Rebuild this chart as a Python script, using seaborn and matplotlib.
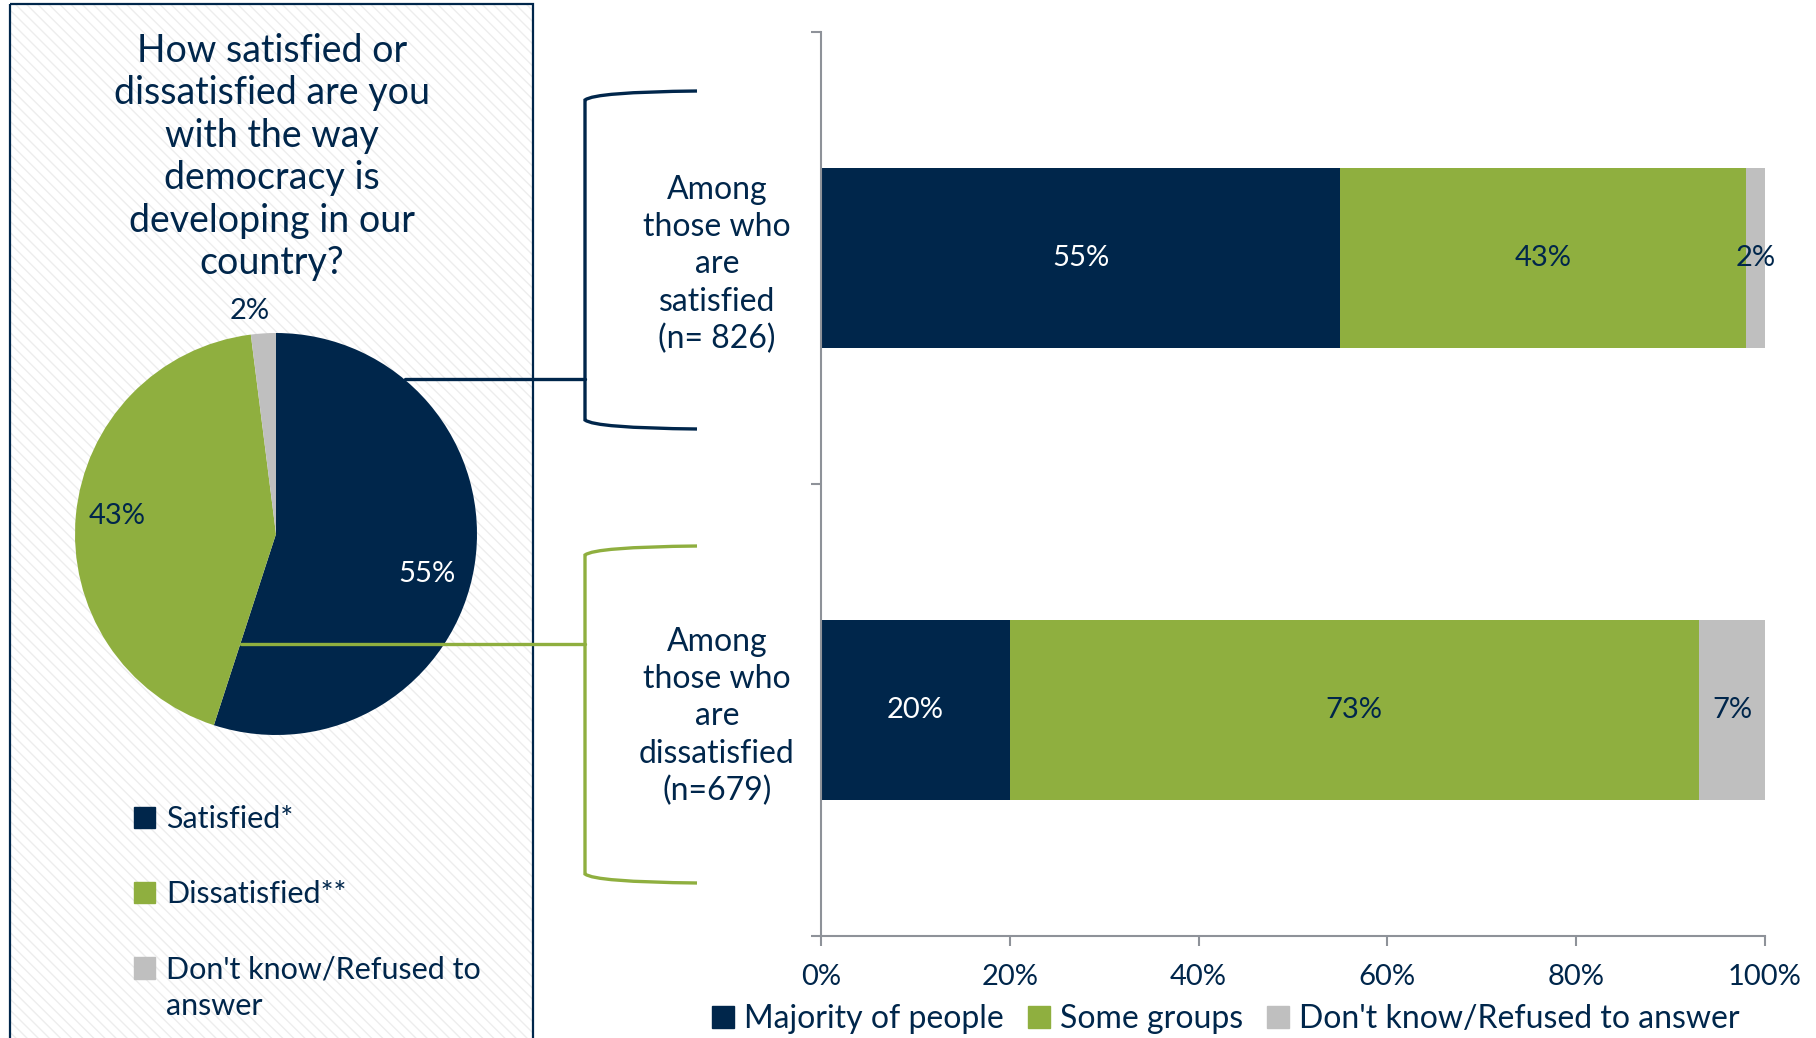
import numpy as np
import pandas as pd
import matplotlib
matplotlib.use("Agg")
import matplotlib.pyplot as plt
import seaborn as sns
from matplotlib.patches import Rectangle, PathPatch, Patch
from matplotlib.legend_handler import HandlerPatch
from matplotlib.path import Path

# ---- colours ----
NAVY = '#00264B'
GREEN = '#8FAF3F'
GREY = '#BFBFBF'
AXIS_GREY = '#8E9299'

# ---- data ----
question = ('How satisfied or\ndissatisfied are you\nwith the way\n'
            'democracy is\ndeveloping in our\ncountry?')
pie_labels = ['Satisfied*', 'Dissatisfied**', "Don't know/Refused to\nanswer"]
pie_values = [55, 43, 2]

groups = ['Among\nthose who\nare\nsatisfied\n(n= 826)',
          'Among\nthose who\nare\ndissatisfied\n(n=679)']
series = ['Majority of people', 'Some groups', "Don't know/Refused to answer"]
majority = [55, 20]
some_groups = [43, 73]
dont_know = [2, 7]

sns.set_theme(style='white')
plt.rcParams['font.family'] = ['Lato', 'DejaVu Sans']
plt.rcParams['hatch.linewidth'] = 1.0

W, H = 1816, 1038
fig = plt.figure(figsize=(W / 100, H / 100), dpi=100)


def px_axes(x0, y0, x1, y1, **kw):
    return fig.add_axes([x0 / W, 1 - y1 / H, (x1 - x0) / W, (y1 - y0) / H], **kw)


# ---- left panel background (hatched box) ----
bg = px_axes(0, 0, W, H)
bg.set_xlim(0, W)
bg.set_ylim(H, 0)
bg.axis('off')
bg.add_patch(Rectangle((10, 4), 523, 1060, facecolor='white', edgecolor='#EDEDED',
                       hatch='\\\\\\', linewidth=0))
bg.add_patch(Rectangle((10, 4), 523, 1060, fill=False, edgecolor=NAVY, linewidth=1.6))
bg.text(272, 157, question, ha='center', va='center', fontsize=27, color=NAVY,
        linespacing=1.22)

# ---- pie ----
pie_ax = px_axes(75, 333, 477, 735)
wedges, texts, autotexts = pie_ax.pie(
    pie_values, colors=[NAVY, GREEN, GREY], startangle=90, counterclock=False,
    labels=['', '', '2%'], labeldistance=1.1,
    autopct=lambda p: f'{p:.0f}%' if p > 5 else '', pctdistance=0.78,
    wedgeprops=dict(linewidth=0), textprops=dict(fontsize=21, color=NAVY))
autotexts[0].set_color('white')
autotexts[0].set_position((0.75, -0.2))
autotexts[1].set_position((-0.79, 0.09))
texts[2].set_ha('center')
texts[2].set_position((-0.13, 1.11))
pie_ax.set_xlim(-1, 1)
pie_ax.set_ylim(-1, 1)
pie_ax.set_aspect('equal')


class TopAlignedHandler(HandlerPatch):
    # keeps the square level with the first line of a two-line label
    def __init__(self, shift=0, **kw):
        super().__init__(**kw)
        self.shift = shift

    def create_artists(self, legend, orig_handle, xdescent, ydescent, width, height,
                       fontsize, trans):
        p = Rectangle((-xdescent, -ydescent + self.shift), width, height,
                      facecolor=orig_handle.get_facecolor(), linewidth=0)
        self.update_prop(p, orig_handle, legend)
        p.set_transform(trans)
        return [p]


left_handles = [Patch(color=c) for c in [NAVY, GREEN, GREY]]
leg1 = fig.legend(handles=left_handles, labels=pie_labels,
                  handler_map={left_handles[2]: TopAlignedHandler(shift=15)},
                  loc='upper left', bbox_to_anchor=(134 / W, 1 - 805 / H), frameon=False,
                  fontsize=22, labelcolor=NAVY, handlelength=0.7, handleheight=0.7,
                  handletextpad=0.35, labelspacing=1.55, borderpad=0, borderaxespad=0)
for t in leg1.get_texts():
    t.set_linespacing(1.38)

# ---- stacked bars ----
bar_ax = px_axes(821, 32, 1765, 936)
df = pd.DataFrame({'group': groups, 'maj': majority, 'some': some_groups, 'dk': dont_know})
df['c2'] = df['maj'] + df['some']
df['c3'] = df['c2'] + df['dk']
for col, c in [('c3', GREY), ('c2', GREEN), ('maj', NAVY)]:
    sns.barplot(data=df, x=col, y='group', orient='h', color=c, saturation=1,
                width=0.4, errorbar=None, linewidth=0, ax=bar_ax)

for i, row in df.iterrows():
    left = 0
    for key, tc in [('maj', 'white'), ('some', NAVY), ('dk', NAVY)]:
        v = row[key]
        bar_ax.text(left + v / 2, i, f'{v}%', ha='center', va='center',
                    fontsize=21, color=tc)
        left += v

bar_ax.set_xlim(0, 100)
bar_ax.set_xticks(np.arange(0, 101, 20), labels=[f'{t}%' for t in range(0, 101, 20)])
bar_ax.set_yticks([0, 1], labels=groups)
bar_ax.set_yticks([-0.5, 0.5, 1.5], minor=True)
bar_ax.set_ylim(1.5, -0.5)
bar_ax.set_xlabel('')
bar_ax.set_ylabel('')
for lbl in bar_ax.get_yticklabels():
    lbl.set_ha('center')
    lbl.set_multialignment('center')
    lbl.set_linespacing(1.3)
bar_ax.tick_params(axis='y', which='major', length=0, pad=75, labelsize=23, labelcolor=NAVY)
bar_ax.tick_params(axis='y', which='minor', left=True, length=7, width=1.5, color=AXIS_GREY)
bar_ax.tick_params(axis='x', bottom=True, length=7, width=1.5, color=AXIS_GREY, pad=13,
                   labelsize=21, labelcolor=NAVY)
for s in ['top', 'right']:
    bar_ax.spines[s].set_visible(False)
for s in ['left', 'bottom']:
    bar_ax.spines[s].set_color(AXIS_GREY)
    bar_ax.spines[s].set_linewidth(1.5)

fig.legend(handles=[Patch(color=c) for c in [NAVY, GREEN, GREY]], labels=series,
           loc='center left', bbox_to_anchor=(712 / W, 1 - 1019 / H), ncol=3,
           frameon=False, fontsize=23, labelcolor=NAVY, handlelength=0.7,
           handleheight=0.7, handletextpad=0.3, columnspacing=0.75, borderpad=0,
           borderaxespad=0)

# ---- brackets and connectors (overlay) ----
ov = px_axes(0, 0, W, H)
ov.set_xlim(0, W)
ov.set_ylim(H, 0)
ov.axis('off')
ov.patch.set_alpha(0)


def bracket(top, bottom, color):
    verts = [(697, top), (595, top + 1), (585, top + 9), (585, bottom - 9),
             (595, bottom - 1), (697, bottom)]
    codes = [Path.MOVETO, Path.CURVE3, Path.CURVE3, Path.LINETO, Path.CURVE3, Path.CURVE3]
    ov.add_patch(PathPatch(Path(verts, codes), fill=False, edgecolor=color, linewidth=2.4))


bracket(91, 429, NAVY)
bracket(546, 883, GREEN)
ov.plot([405, 585], [379, 379], color=NAVY, linewidth=2.4)
ov.plot([241, 585], [644, 644], color=GREEN, linewidth=2.4)

fig.savefig('out.png', dpi=100)
